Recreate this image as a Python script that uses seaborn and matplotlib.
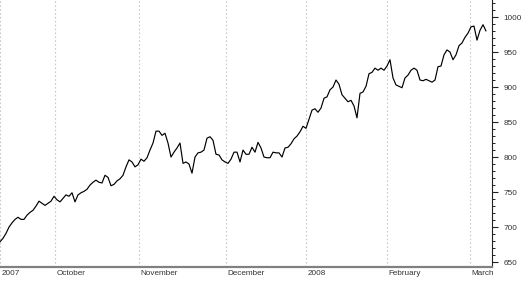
import numpy as np
import pandas as pd
import matplotlib
matplotlib.use("Agg")
import matplotlib.pyplot as plt
import seaborn as sns
from matplotlib.transforms import blended_transform_factory, offset_copy
from matplotlib.ticker import MultipleLocator

# Index values (roughly one reading per session step)
values = [679, 684, 691, 700, 706, 711, 714, 711, 711, 717,
          721, 724, 730, 737, 734, 731, 734, 737, 744, 739,
          736, 741, 746, 744, 749, 736, 746, 749, 751, 754,
          760, 764, 767, 764, 763, 774, 771, 759, 761, 766,
          769, 774, 786, 796, 793, 786, 789, 797, 794, 799,
          810, 820, 837, 837, 831, 834, 820, 800, 807, 813,
          820, 791, 793, 790, 777, 800, 806, 807, 810, 827,
          829, 824, 804, 803, 796, 793, 791, 797, 807, 807,
          793, 810, 804, 804, 814, 807, 821, 813, 800, 799,
          799, 807, 806, 806, 800, 813, 814, 819, 826, 830,
          836, 844, 841, 854, 867, 869, 864, 870, 884, 886,
          896, 900, 910, 904, 889, 884, 879, 881, 873, 856,
          891, 893, 901, 919, 921, 927, 924, 927, 924, 930,
          939, 913, 903, 901, 899, 913, 917, 924, 927, 924,
          910, 909, 911, 909, 907, 910, 929, 930, 946, 953,
          950, 939, 946, 959, 963, 971, 977, 986, 987, 967,
          981, 989, 980]

month_labels = ["2007", "October", "November", "December", "2008", "February", "March"]
month_pos = [0, 18.33, 46.33, 75.33, 102, 129, 156.67]
y_ticks = [650, 700, 750, 800, 850, 900, 950, 1000]

sns.set_style("white")
plt.rcParams['font.family'] = ['Liberation Sans', 'DejaVu Sans']

fig = plt.figure(figsize=(5.25, 2.84), dpi=100)
ax = fig.add_axes([0, 1 - 267 / 284, 492 / 525, 267 / 284])

df = pd.DataFrame({"idx": np.arange(len(values)), "value": values})
sns.lineplot(data=df, x="idx", y="value", ax=ax, color="black", linewidth=0.85)

ax.set_xlim(0, 164)
ax.set_ylim(643, 1024.3)

for p in month_pos:
    ax.axvline(p, color="#c8c8c8", lw=0.8, ls=(0, (1.5, 2)), zorder=0)

for s in ["left", "top"]:
    ax.spines[s].set_visible(False)
ax.spines["right"].set_color("#222222")
ax.spines["right"].set_linewidth(0.8)
ax.spines["bottom"].set_color("#808080")
ax.spines["bottom"].set_linewidth(1.6)

# y axis on the right
ax.yaxis.tick_right()
ax.set_yticks(y_ticks)
ax.set_yticklabels([str(v) for v in y_ticks])
ax.yaxis.set_minor_locator(MultipleLocator(10))
ax.tick_params(axis="y", which="major", direction="out", length=4.3, width=0.8,
               color="#222222", pad=4, labelsize=5.9, labelcolor="#333333",
               left=False, right=True)
ax.tick_params(axis="y", which="minor", direction="out", length=2.2, width=0.7,
               color="#222222", left=False, right=True)

# x axis: month boundaries
ax.set_xticks(month_pos)
ax.set_xticklabels([])
ax.set_xticks(np.arange(0, 164, 4.6), minor=True)
ax.tick_params(axis="x", which="major", direction="out", length=12.5, width=0.8,
               color="#444444")
ax.tick_params(axis="x", which="minor", direction="in", length=2.3, width=0.7,
               color="#555555")

trans = offset_copy(blended_transform_factory(ax.transData, ax.transAxes),
                    fig=fig, x=1.5, y=-3, units="dots")
for p, lab in zip(month_pos, month_labels):
    ax.text(p, 0, lab, transform=trans, ha="left", va="top",
            fontsize=5.9, color="#333333")

ax.set_xlabel("")
ax.set_ylabel("")

fig.savefig("out.png", dpi=100)
